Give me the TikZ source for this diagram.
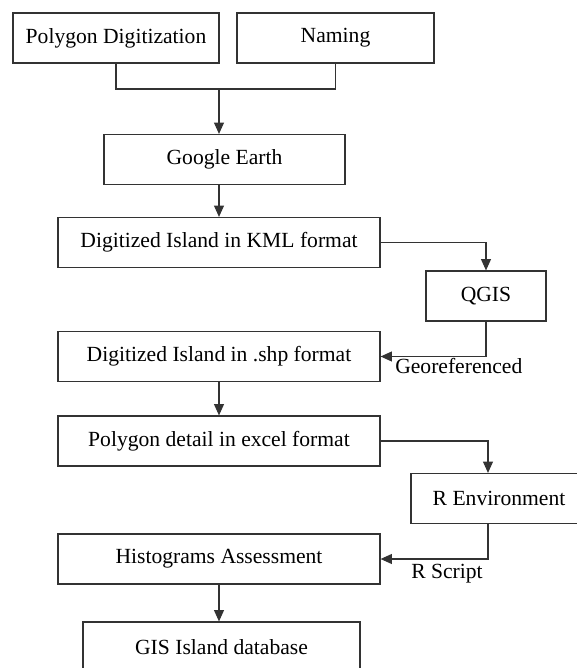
\documentclass[tikz,border=0pt]{standalone}
\usepackage{fontspec}
\setmainfont{Liberation Serif}
\usetikzlibrary{positioning,arrows.meta}

\begin{document}
\begin{tikzpicture}[x=0.75pt,y=0.75pt,yscale=-1,xscale=1,
    box/.style={draw=black!80,line width=0.9pt,minimum height=37.5pt,inner sep=0pt,font=\fontsize{16.2}{18}\selectfont},
    lbl/.style={inner sep=0pt,font=\fontsize{16.2}{18}\selectfont},
    >={Triangle[length=8.5pt,width=7.5pt]},
    link/.style={draw=black!80,line width=0.8pt}]
        \useasboundingbox (0,0) rectangle (576,668);
        %Boxes
        \node[box,minimum width=154.5pt] (polydig) at (116,38) {Polygon Digitization};
        \node[box,minimum width=147.75pt] (naming) at (335.5,38) {Naming};
        \node[box,minimum width=180.75pt] (google) at (224.5,159.5) {Google Earth};
        \node[box,minimum width=241.5pt] (kml) at (219,242.5) {Digitized Island in KML format};
        \node[box,minimum width=90pt] (qgis) at (486,296) {QGIS};
        \node[box,minimum width=241.5pt] (shp) at (219,356.5) {Digitized Island in .shp format};
        \node[box,minimum width=241.5pt] (excel) at (219,441) {Polygon detail in excel format};
        \node[box,minimum width=132pt] (renv) at (499,498.5) {R Environment};
        \node[box,minimum width=241.5pt] (hist) at (219,559) {Histograms Assessment};
        \node[box,minimum width=207.75pt] (gis) at (221.5,647) {GIS Island database};
        %Labels
        \node[lbl,anchor=west] (georef) at (395,366) {Georeferenced};
        \node[lbl,anchor=west] (rscript) at (411,574) {R Script};
        \coordinate (join) at (219,89);
        \coordinate (rcol) at (488,0);
        %Connectors
        \draw[link] (polydig.south) |- (join) -| (naming.south);
        \draw[link,->] (join) -- (join |- google.north);
        \draw[link,->] (kml.north |- google.south) -- (kml.north);
        \draw[link,->] (kml.east) -| (qgis.north);
        \draw[link,->] (qgis.south) |- (shp.east);
        \draw[link,->] (shp.south) -- (excel.north);
        \draw[link,->] (excel.east) -| (rcol |- renv.north);
        \draw[link,->] (rcol |- renv.south) |- (hist.east);
        \draw[link,->] (hist.south) -- (hist.south |- gis.north);
    \end{tikzpicture}
\end{document}
